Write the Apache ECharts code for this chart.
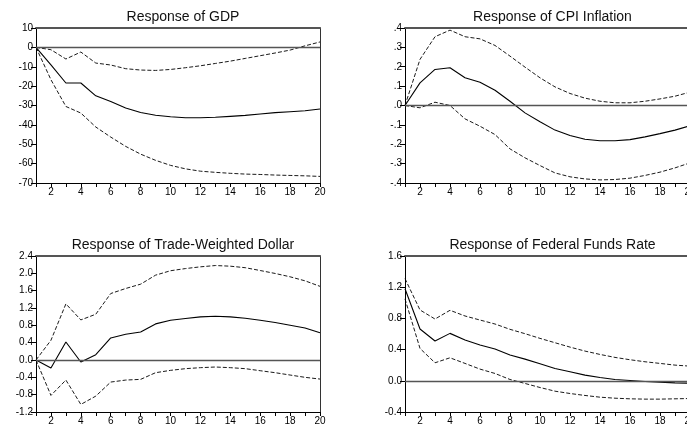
<!DOCTYPE html>
<html>
<head>
<meta charset="utf-8">
<script src="https://cdn.jsdelivr.net/npm/echarts@6/dist/echarts.min.js"></script>
<style>
  html, body { margin: 0; padding: 0; background: #fff; }
  #chart { width: 687px; height: 428px; }
</style>
</head>
<body>
<div id="chart"></div>
<script>
// Impulse responses over 20 periods with +/- 2 S.E. bands
const periods = ["1","2","3","4","5","6","7","8","9","10","11","12","13","14","15","16","17","18","19","20"];

const gdpResp  = [0, -9, -18.4, -18.4, -25, -27.9, -31.3, -33.6, -35, -35.8, -36.3, -36.3, -36.1, -35.6, -35.1, -34.4, -33.7, -33.2, -32.7, -31.8];
const gdpUpper = [0, -1.2, -6, -2.4, -8.1, -9.1, -11, -11.7, -11.9, -11.4, -10.5, -9.5, -8.3, -7.1, -5.7, -4.3, -2.9, -1.4, 0.8, 2.8];
const gdpLower = [0, -16.7, -30.5, -33.9, -41.1, -46.3, -51.1, -55.1, -58.3, -60.9, -62.7, -63.9, -64.5, -65, -65.4, -65.6, -65.9, -66.1, -66.3, -66.6];

const cpiResp  = [0, 0.117, 0.186, 0.195, 0.143, 0.12, 0.079, 0.022, -0.038, -0.084, -0.127, -0.155, -0.174, -0.182, -0.182, -0.176, -0.162, -0.145, -0.127, -0.105];
const cpiUpper = [0, 0.238, 0.355, 0.389, 0.355, 0.344, 0.31, 0.255, 0.198, 0.143, 0.096, 0.062, 0.038, 0.022, 0.014, 0.014, 0.022, 0.034, 0.048, 0.069];
const cpiLower = [0, -0.012, 0.017, 0, -0.069, -0.107, -0.15, -0.224, -0.27, -0.31, -0.348, -0.368, -0.379, -0.384, -0.382, -0.375, -0.361, -0.344, -0.322, -0.296];

const twdResp  = [0, -0.185, 0.416, -0.046, 0.123, 0.509, 0.594, 0.648, 0.833, 0.918, 0.956, 0.995, 1.01, 0.995, 0.964, 0.918, 0.864, 0.802, 0.74, 0.63];
const twdUpper = [0, 0.455, 1.295, 0.925, 1.056, 1.534, 1.65, 1.75, 1.958, 2.06, 2.11, 2.15, 2.18, 2.165, 2.13, 2.065, 1.997, 1.92, 1.827, 1.7];
const twdLower = [0, -0.817, -0.463, -1.025, -0.833, -0.509, -0.463, -0.447, -0.293, -0.239, -0.2, -0.177, -0.162, -0.177, -0.2, -0.247, -0.293, -0.347, -0.4, -0.44];

const ffrResp  = [1.18, 0.664, 0.51, 0.608, 0.522, 0.458, 0.407, 0.33, 0.278, 0.218, 0.158, 0.116, 0.073, 0.043, 0.017, 0.004, -0.009, -0.017, -0.026, -0.03];
const ffrUpper = [1.31, 0.908, 0.792, 0.904, 0.831, 0.779, 0.728, 0.66, 0.604, 0.544, 0.488, 0.432, 0.381, 0.338, 0.3, 0.27, 0.244, 0.223, 0.201, 0.188];
const ffrLower = [1.05, 0.415, 0.231, 0.295, 0.223, 0.15, 0.094, 0.017, -0.034, -0.086, -0.133, -0.163, -0.188, -0.21, -0.223, -0.231, -0.235, -0.235, -0.231, -0.227];

const titles = ["Response of GDP", "Response of CPI Inflation", "Response of Trade-Weighted Dollar", "Response of Federal Funds Rate"];

const FONT = "Liberation Sans";

const panels = [
  { box: { left: 36,  top: 28,  width: 284, height: 155 }, min: -70,  max: 10,  step: 10,  fmt: v => String(Math.round(v)), resp: gdpResp, up: gdpUpper, lo: gdpLower },
  { box: { left: 405, top: 28,  width: 285, height: 155 }, min: -0.4, max: 0.4, step: 0.1, fmt: v => v.toFixed(1).replace("0.", "."), resp: cpiResp, up: cpiUpper, lo: cpiLower },
  { box: { left: 36,  top: 256, width: 284, height: 156 }, min: -1.2, max: 2.4, step: 0.4, fmt: v => v.toFixed(1), resp: twdResp, up: twdUpper, lo: twdLower },
  { box: { left: 405, top: 256, width: 285, height: 156 }, min: -0.4, max: 1.6, step: 0.4, fmt: v => v.toFixed(1), resp: ffrResp, up: ffrUpper, lo: ffrLower }
];

const grid = [], xAxis = [], yAxis = [], series = [], title = [];

panels.forEach((p, i) => {
  // right-hand panels run slightly past the page edge, so no bounds clamping
  grid.push(Object.assign({ show: false, containLabel: false, outerBoundsMode: "none" }, p.box));

  title.push({
    text: titles[i],
    left: p.box.left + p.box.width / 2,
    top: p.box.top - 23,
    textAlign: "center",
    textStyle: { fontFamily: FONT, fontSize: 14, fontWeight: "normal", color: "#111" }
  });

  // bottom axis with period ticks
  xAxis.push({
    type: "category", gridIndex: i, data: periods, boundaryGap: false, position: "bottom",
    axisLine: { onZero: false, lineStyle: { color: "#000", width: 1 } },
    axisTick: { interval: 0, length: 4, lineStyle: { color: "#000" } },
    axisLabel: { interval: (idx) => idx % 2 === 1, fontFamily: FONT, fontSize: 10, color: "#000", margin: 4 },
    splitLine: { show: false }
  });
  // top frame edge
  xAxis.push({
    type: "category", gridIndex: i, data: periods, boundaryGap: false, position: "top",
    axisLine: { onZero: false, lineStyle: { color: "#555", width: 2 } },
    axisTick: { show: false }, axisLabel: { show: false }, splitLine: { show: false }
  });

  yAxis.push({
    type: "value", gridIndex: i, min: p.min, max: p.max, interval: p.step, position: "left",
    axisLine: { show: true, onZero: false, lineStyle: { color: "#000", width: 1 } },
    axisTick: { show: true, length: 5, lineStyle: { color: "#000" } },
    axisLabel: { formatter: p.fmt, fontFamily: FONT, fontSize: 10, color: "#000", margin: 3 },
    splitLine: { show: false }
  });
  // right frame edge
  yAxis.push({
    type: "value", gridIndex: i, min: p.min, max: p.max, interval: p.step, position: "right",
    axisLine: { show: true, onZero: false, lineStyle: { color: "#333", width: 1 } },
    axisTick: { show: false }, axisLabel: { show: false }, splitLine: { show: false }
  });

  const xi = i * 2, yi = i * 2;
  series.push({
    type: "line", xAxisIndex: xi, yAxisIndex: yi, data: p.resp, symbol: "none", silent: true,
    lineStyle: { color: "#000", width: 1.1, type: "solid" },
    markLine: {
      silent: true, symbol: "none", label: { show: false },
      lineStyle: { color: "#555", width: 1.3, type: "solid" },
      data: [{ yAxis: 0 }]
    }
  });
  series.push({
    type: "line", xAxisIndex: xi, yAxisIndex: yi, data: p.up, symbol: "none", silent: true,
    lineStyle: { color: "#000", width: 0.9, type: [4, 2] }
  });
  series.push({
    type: "line", xAxisIndex: xi, yAxisIndex: yi, data: p.lo, symbol: "none", silent: true,
    lineStyle: { color: "#000", width: 0.9, type: [4, 2] }
  });
});

const chart = echarts.init(document.getElementById("chart"), null, { renderer: "canvas" });
chart.setOption({
  backgroundColor: "#fff",
  animation: false,
  title, grid, xAxis, yAxis, series
});
</script>
</body>
</html>
